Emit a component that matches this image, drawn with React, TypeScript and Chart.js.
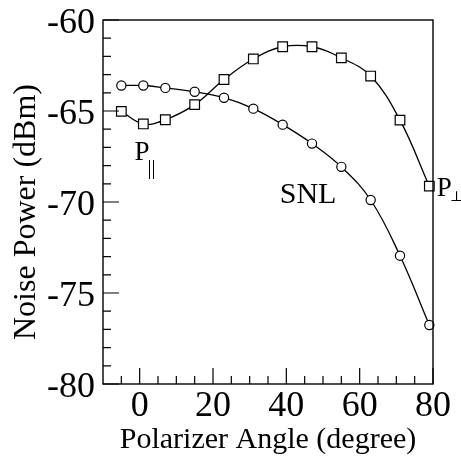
import React, { useEffect, useRef } from "react";
import { Chart, registerables } from "chart.js";

Chart.register(...registerables);

// Polarizer angle (degree) of each measurement
const angles = [-5, 1, 7, 15, 23, 31, 39, 47, 55, 63, 71, 79];
// P_perp noise power (dBm), squares
const pPerp = [-65.02, -65.71, -65.48, -64.65, -63.27, -62.14, -61.47, -61.47, -62.08, -63.08, -65.5, -69.13];
// SNL noise power (dBm), circles
const snl = [-63.6, -63.6, -63.73, -63.94, -64.27, -64.87, -65.75, -66.79, -68.07, -69.89, -72.95, -76.76];

const xTickValues = [0, 20, 40, 60, 80];
const xMinorTicks = [-5, 5, 10, 15, 25, 30, 35, 45, 50, 55, 65, 70, 75];
const yTickValues = [-80, -75, -70, -65, -60];
const yMinorTicks = [-61, -62, -63, -64, -66, -67, -68, -69, -71, -72, -73, -74, -76, -77, -78, -79];

const xTitle = "Polarizer Angle (degree)";
const yTitle = "Noise Power (dBm)";

const FONT = "'Liberation Serif', 'Times New Roman', serif";

const decor = {
  id: "decor",
  afterDraw(chart: any) {
    const { ctx, chartArea: a, scales } = chart;
    const x = scales.x;
    const y = scales.y;
    ctx.save();
    ctx.strokeStyle = "#000";
    ctx.lineWidth = 1.4;
    ctx.strokeRect(a.left, a.top, a.right - a.left, a.bottom - a.top);
    ctx.lineWidth = 1.2;
    ctx.beginPath();
    xTickValues.forEach((v) => {
      const px = x.getPixelForValue(v);
      ctx.moveTo(px, a.bottom);
      ctx.lineTo(px, a.bottom - 16);
    });
    xMinorTicks.forEach((v) => {
      const px = x.getPixelForValue(v);
      ctx.moveTo(px, a.bottom);
      ctx.lineTo(px, a.bottom - 8);
    });
    yTickValues.forEach((v) => {
      const py = y.getPixelForValue(v);
      ctx.moveTo(a.left, py);
      ctx.lineTo(a.left + 16, py);
    });
    yMinorTicks.forEach((v) => {
      const py = y.getPixelForValue(v);
      ctx.moveTo(a.left, py);
      ctx.lineTo(a.left + 8, py);
    });
    ctx.stroke();

    // y title
    ctx.fillStyle = "#000";
    ctx.save();
    ctx.translate(27, (a.top + a.bottom) / 2 + 10);
    ctx.rotate(-Math.PI / 2);
    ctx.font = `32px ${FONT}`;
    ctx.textAlign = "center";
    ctx.textBaseline = "middle";
    ctx.fillText(yTitle, 0, 0);
    ctx.restore();

    // curve labels
    ctx.textAlign = "left";
    ctx.textBaseline = "alphabetic";
    // P parallel
    let px = x.getPixelForValue(-1.4);
    let py = y.getPixelForValue(-67.68);
    ctx.font = `27px ${FONT}`;
    ctx.fillText("P", px, py);
    const pw = ctx.measureText("P").width;
    ctx.font = `20px ${FONT}`;
    ctx.fillText("||", px + pw - 2, py + 14);

    // SNL
    ctx.font = `30px ${FONT}`;
    ctx.fillText("SNL", x.getPixelForValue(38.2), y.getPixelForValue(-70.06));

    // P perpendicular
    px = x.getPixelForValue(81.0);
    py = y.getPixelForValue(-69.66);
    ctx.font = `27px ${FONT}`;
    ctx.fillText("P", px, py);
    const pw2 = ctx.measureText("P").width;
    ctx.font = `14px 'DejaVu Serif', serif`;
    ctx.fillText("\u22A5", px + pw2 - 2, py + 5);
    ctx.restore();
  },
};

export default function App() {
  const ref = useRef<HTMLCanvasElement | null>(null);
  useEffect(() => {
    if (!ref.current) return;
    const chart = new Chart(ref.current, {
      type: "scatter",
      data: {
        datasets: [
          {
            label: "P_perp",
            data: angles.map((a, i) => ({ x: a, y: pPerp[i] })),
            showLine: true,
            tension: 0.4,
            borderColor: "#000",
            borderWidth: 1.3,
            pointStyle: "rect",
            pointRadius: 6.8,
            pointBorderWidth: 1.2,
            pointBorderColor: "#000",
            pointBackgroundColor: "#fff",
            clip: false as any,
          },
          {
            label: "SNL",
            data: angles.map((a, i) => ({ x: a, y: snl[i] })),
            showLine: true,
            tension: 0.4,
            borderColor: "#000",
            borderWidth: 1.3,
            pointStyle: "circle",
            pointRadius: 4.6,
            pointBorderWidth: 1.2,
            pointBorderColor: "#000",
            pointBackgroundColor: "#fff",
            clip: false as any,
          },
        ],
      },
      options: {
        responsive: false,
        animation: false,
        events: [],
        layout: { padding: { left: 0, right: 28, top: 20, bottom: 0 } },
        plugins: { legend: { display: false }, tooltip: { enabled: false } },
        scales: {
          x: {
            type: "linear",
            min: -10,
            max: 80,
            grid: { display: false },
            border: { display: false },
            afterBuildTicks: (s: any) => {
              s.ticks = xTickValues.map((v) => ({ value: v }));
            },
            afterFit: (s: any) => {
              s.height = 74;
              s.paddingLeft = 0;
              s.paddingRight = 0;
            },
            ticks: {
              autoSkip: false,
              maxRotation: 0,
              padding: -7,
              color: "#000",
              font: { family: FONT, size: 36 },
              callback: (v: any) => String(v),
            },
            title: {
              display: true,
              text: xTitle,
              color: "#000",
              font: { family: FONT, size: 30 },
              padding: { top: 0, bottom: 0 },
            },
          },
          y: {
            type: "linear",
            min: -80,
            max: -60,
            grid: { display: false },
            border: { display: false },
            afterBuildTicks: (s: any) => {
              s.ticks = yTickValues.map((v) => ({ value: v }));
            },
            afterFit: (s: any) => {
              s.width = 103;
              s.paddingTop = 0;
              s.paddingBottom = 0;
            },
            ticks: {
              autoSkip: false,
              padding: 0,
              labelOffset: 4,
              color: "#000",
              font: { family: FONT, size: 36 },
              callback: (v: any) => String(v),
            },
          },
        },
      },
      plugins: [decor],
    });
    return () => chart.destroy();
  }, []);
  return (
    <div style={{ position: "absolute", left: 0, top: 0, width: 461, height: 458, background: "#fff" }}>
      <canvas ref={ref} width={461} height={458} />
    </div>
  );
}
